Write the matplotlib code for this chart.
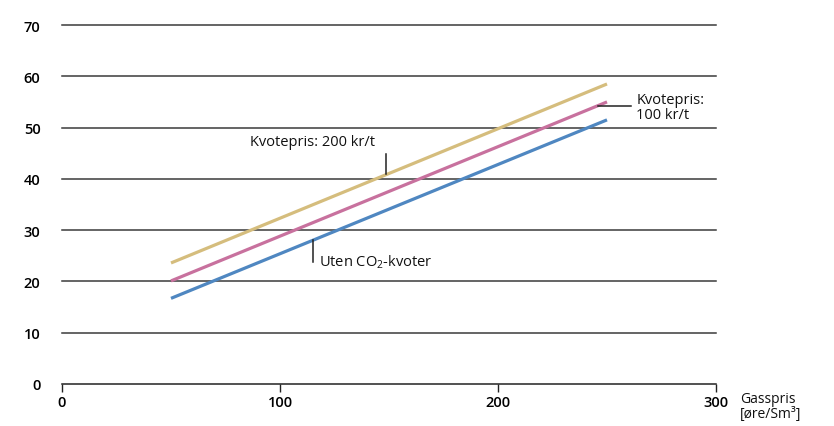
import matplotlib
matplotlib.use("Agg")
import matplotlib.pyplot as plt

plt.rcParams['font.family'] = ['Open Sans', 'DejaVu Sans']
plt.rcParams['mathtext.fontset'] = 'custom'
plt.rcParams['mathtext.rm'] = 'Open Sans'
plt.rcParams['mathtext.it'] = 'Open Sans'

gas_price = [50, 250]
uten_co2 = [16.7, 51.5]
kvote_100 = [20.1, 55.0]
kvote_200 = [23.6, 58.5]
x_ticks = [0, 100, 200, 300]
y_ticks = [0, 10, 20, 30, 40, 50, 60, 70]

fig = plt.figure(figsize=(8.34, 4.27), dpi=100)
ax = fig.add_axes([62/834, 1-385/427, 654/834, 359/427])
ax.set_xlim(0, 300)
ax.set_ylim(0, 70)

for yv in y_ticks[1:]:
    ax.axhline(yv, color='#3a3a3a', lw=1.1, zorder=1, clip_on=False)

ax.plot(gas_price, kvote_200, color='#d5bd7d', lw=2.3, solid_capstyle='butt', zorder=3)
ax.plot(gas_price, kvote_100, color='#c8719e', lw=2.3, solid_capstyle='butt', zorder=3)
ax.plot(gas_price, uten_co2, color='#4f87c1', lw=2.3, solid_capstyle='butt', zorder=3)

for s in ['top', 'right', 'left']:
    ax.spines[s].set_visible(False)
ax.spines['bottom'].set_color('#222222')
ax.spines['bottom'].set_linewidth(1.1)
ax.set_xticks(x_ticks)
ax.set_yticks(y_ticks)
ax.tick_params(axis='x', direction='out', length=6, width=1.0, color='#222222',
               labelsize=10.5, pad=2)
ax.tick_params(axis='y', length=0, labelsize=10.5, pad=15.5)
for lab in ax.get_xticklabels() + ax.get_yticklabels():
    lab.set_fontweight('semibold')

# annotations
ax.plot([148.5, 148.5], [41.0, 44.8], color='#222222', lw=1.1, zorder=4)
ax.text(143.5, 47.2, 'Kvotepris: 200 kr/t', ha='right', va='center', fontsize=10.5, color='#111111')

ax.plot([115, 115], [23.8, 28.0], color='#222222', lw=1.1, zorder=4)
ax.text(118, 23.9, 'Uten CO$_2$-kvoter', ha='left', va='center', fontsize=10.5, color='#111111')

ax.plot([246, 261], [54.2, 54.2], color='#222222', lw=1.1, zorder=4, clip_on=False)
ax.text(263.5, 54.1, 'Kvotepris:\n100 kr/t', ha='left', va='center', fontsize=10.5,
        color='#111111', linespacing=1.0)

fig.text(740/834, 1-407/427, 'Gasspris\n[øre/Sm³]', ha='left', va='center', fontsize=10,
         color='#111111', linespacing=1.05)

fig.savefig('out.png', dpi=100)
